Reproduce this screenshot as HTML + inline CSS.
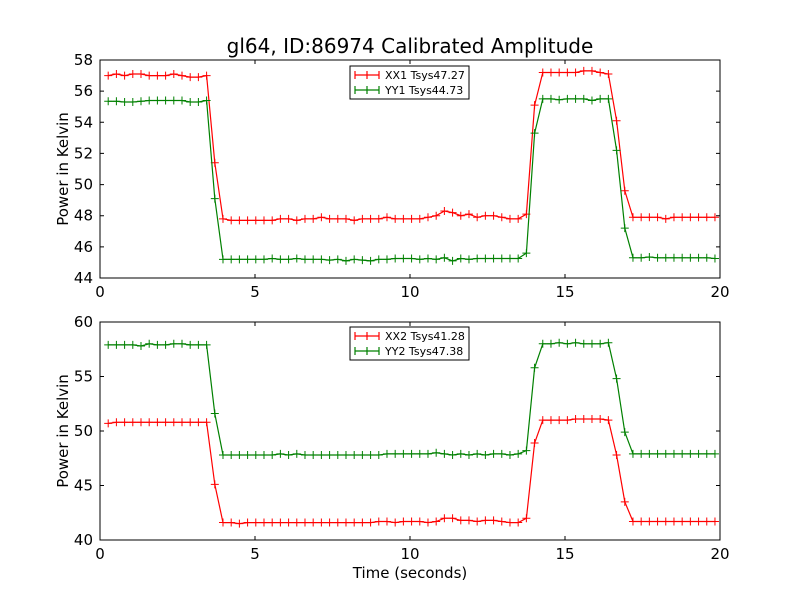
<!DOCTYPE html>
<html><head><meta charset="utf-8"><style>
body{margin:0;background:#fff}
svg{display:block;font-family:"DejaVu Sans","Liberation Sans",sans-serif}
</style></head><body>
<svg id="c" width="800" height="600" xmlns="http://www.w3.org/2000/svg"></svg>
<script>
const xx1=[57.0,57.1,57.0,57.1,57.1,57.0,57.0,57.0,57.1,57.0,56.9,56.9,57.0,51.4,
47.8,47.7,47.7,47.7,47.7,47.7,47.7,47.8,47.8,47.7,47.8,47.8,47.9,47.8,47.8,47.8,47.7,47.8,47.8,47.8,47.9,47.8,47.8,47.8,47.8,47.9,48.0,48.3,48.2,48.0,48.1,47.9,48.0,48.0,47.9,47.8,47.8,
48.1,55.1,57.2,57.2,57.2,57.2,57.2,57.3,57.3,57.2,57.1,54.1,49.6,
47.9,47.9,47.9,47.9,47.8,47.9,47.9,47.9,47.9,47.9,47.9];
const yy1=[55.35,55.35,55.3,55.3,55.35,55.4,55.4,55.4,55.4,55.4,55.3,55.3,55.4,49.1,
45.2,45.2,45.2,45.2,45.2,45.2,45.25,45.2,45.2,45.25,45.2,45.2,45.2,45.15,45.2,45.1,45.2,45.15,45.1,45.2,45.2,45.25,45.25,45.25,45.2,45.25,45.2,45.3,45.1,45.25,45.2,45.25,45.25,45.25,45.25,45.25,45.25,
45.6,53.3,55.5,55.5,55.45,55.5,55.5,55.5,55.4,55.5,55.5,52.2,47.2,
45.3,45.3,45.35,45.3,45.3,45.3,45.3,45.3,45.3,45.3,45.25];
const xx2=[50.7,50.8,50.8,50.8,50.8,50.8,50.8,50.8,50.8,50.8,50.8,50.8,50.8,45.1,
41.6,41.6,41.5,41.6,41.6,41.6,41.6,41.6,41.6,41.6,41.6,41.6,41.6,41.6,41.6,41.6,41.6,41.6,41.6,41.7,41.7,41.6,41.7,41.7,41.7,41.6,41.7,42.0,42.0,41.8,41.8,41.7,41.8,41.8,41.7,41.6,41.6,
42.0,48.9,51.0,51.0,51.0,51.0,51.1,51.1,51.1,51.1,51.0,47.8,43.5,
41.7,41.7,41.7,41.7,41.7,41.7,41.7,41.7,41.7,41.7,41.7];
const yy2=[57.9,57.9,57.9,57.9,57.8,58.0,57.9,57.9,58.0,58.0,57.9,57.9,57.9,51.6,
47.8,47.8,47.8,47.8,47.8,47.8,47.8,47.9,47.8,47.9,47.8,47.8,47.8,47.8,47.8,47.8,47.8,47.8,47.8,47.8,47.9,47.9,47.9,47.9,47.9,47.9,48.0,47.9,47.8,47.9,47.8,47.9,47.8,47.9,47.9,47.8,47.9,
48.2,55.8,58.0,58.0,58.1,58.0,58.1,58.0,58.0,58.0,58.1,54.8,49.9,
47.9,47.9,47.9,47.9,47.9,47.9,47.9,47.9,47.9,47.9,47.9];
const xTicks=[0,5,10,15,20];
const yTicks1=[44,46,48,50,52,54,56,58];
const yTicks2=[40,45,50,55,60];
const dt=0.2645;
const NS="http://www.w3.org/2000/svg";
const svg=document.getElementById('c');
function mk(t,a,p){const e=document.createElementNS(NS,t);for(const k in a)e.setAttribute(k,a[k]);(p||svg).appendChild(e);return e;}
function panel(top,ymin,ymax,yt,s1,s2,n1,n2,name,legY){
  const L=100,R=720,T=top,B=top+218;
  const g=mk('g',{});
  
  
  const X=v=>L+(v-0)/(20-0)*(R-L);
  const Y=v=>B-(v-ymin)/(ymax-ymin)*(B-T);
  [[s1,'#ff0000',n1],[s2,'#008000',n2]].forEach(([s,c,nm])=>{
    const pts=s.map((v,i)=>X(dt*(i+1)).toFixed(1)+','+Y(v).toFixed(1)).join(' ');
    const pl=mk('polyline',{points:pts,fill:'none',stroke:c,'stroke-width':1.2},g);
    
    
    s.forEach((v,i)=>{const x=X(dt*(i+1)),y=Y(v);
      const m=mk('path',{d:`M${x-4},${y}H${x+4}M${x},${y-4}V${y+4}`,stroke:c,'stroke-width':1},g);
      
      });
  });
  const fr=mk('rect',{x:L,y:T,width:R-L,height:B-T,fill:'none',stroke:'#000','stroke-width':1},g);
  
  
  xTicks.forEach(v=>{const x=X(v);
    mk('path',{d:`M${x},${B}v-4M${x},${T}v4`,stroke:'#000'},g);
    const t=mk('text',{x:x,y:B+19,'text-anchor':'middle','font-size':15},g);t.textContent=v;
    
    });
  yt.forEach(v=>{const y=Y(v);
    mk('path',{d:`M${L},${y}h4M${R},${y}h-4`,stroke:'#000'},g);
    const t=mk('text',{x:L-7,y:y+5,'text-anchor':'end','font-size':15},g);t.textContent=v;
    
    });
  const yl=mk('text',{x:0,y:0,transform:`translate(68,${(T+B)/2}) rotate(-90)`,'text-anchor':'middle','font-size':15},g);
  yl.textContent='Power in Kelvin';
  
  
  const lg=mk('g',{},g);
  
  
  mk('rect',{x:350,y:legY,width:119,height:33,fill:'#fff',stroke:'#000'},lg);
  [[n1,'#ff0000',legY+9],[n2,'#008000',legY+24]].forEach(([nm,c,y])=>{
    mk('path',{d:`M355,${y}h24M367,${y-4}v8M355,${y-4}v8M379,${y-4}v8`,stroke:c,'stroke-width':1.2},lg);
    const t=mk('text',{x:385,y:y+4,'font-size':11},lg);t.textContent=nm;
    
    });
}
panel(60,44,58,yTicks1,xx1,yy1,'XX1 Tsys47.27','YY1 Tsys44.73','top-panel',66);
panel(322,40,60,yTicks2,xx2,yy2,'XX2 Tsys41.28','YY2 Tsys47.38','bottom-panel',327);
const ti=mk('text',{x:410,y:53,'text-anchor':'middle','font-size':20});
ti.textContent='gl64, ID:86974 Calibrated Amplitude';


const xl=mk('text',{x:410,y:578,'text-anchor':'middle','font-size':15});
xl.textContent='Time (seconds)';


</script>
</body></html>
